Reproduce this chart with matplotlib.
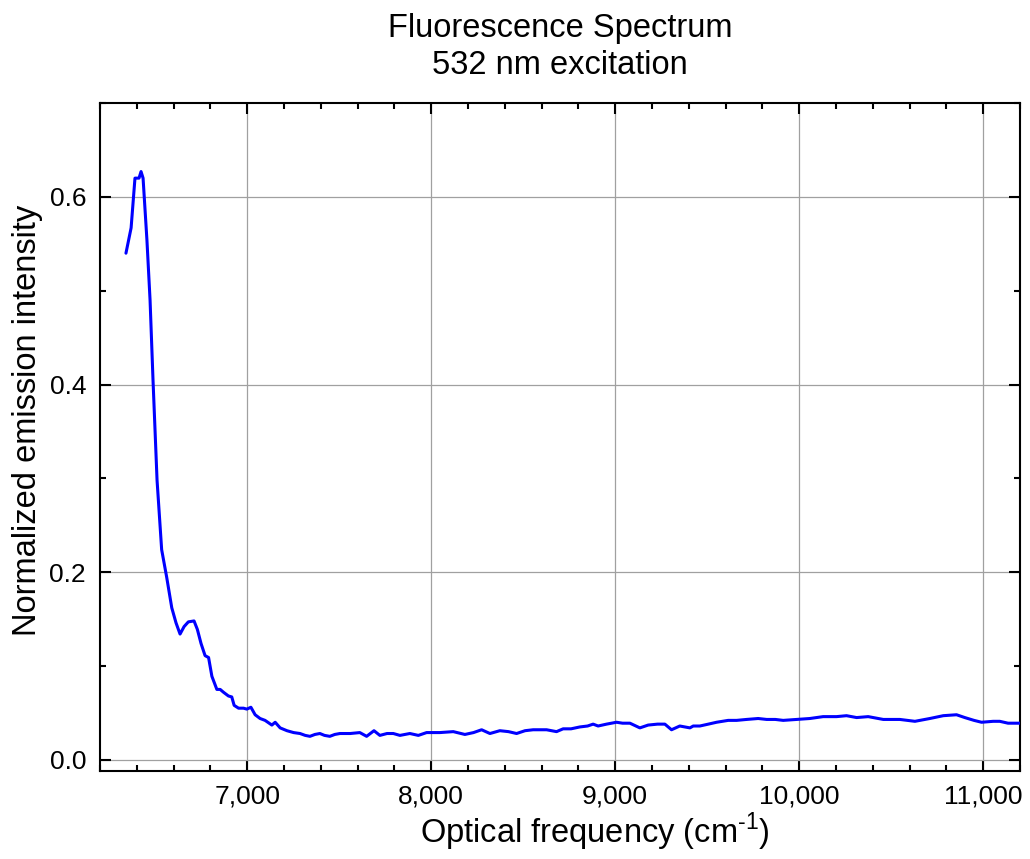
import matplotlib
matplotlib.use("Agg")
import matplotlib.pyplot as plt
from matplotlib.ticker import MultipleLocator, FuncFormatter

plt.rcParams['font.family'] = ['Liberation Sans', 'DejaVu Sans']
plt.rcParams['mathtext.fontset'] = 'custom'
plt.rcParams['mathtext.rm'] = 'Liberation Sans'

# optical frequency (cm^-1) and normalized emission
freq = [6341, 6369, 6390, 6412, 6423, 6434, 6455, 6472, 6488, 6510, 6535,
        6562, 6590, 6613, 6635, 6657, 6680, 6711, 6729, 6749, 6771, 6790,
        6808, 6835, 6853, 6871, 6898, 6916, 6929, 6953, 6980, 6998, 7020,
        7043, 7070, 7097, 7134, 7152, 7179, 7216, 7252, 7287, 7315, 7341,
        7368, 7395, 7420, 7449, 7476, 7504, 7560, 7612, 7649, 7689, 7721,
        7760, 7794, 7830, 7884, 7930, 7975, 8047, 8120, 8183, 8230, 8274,
        8319, 8373, 8420, 8464, 8510, 8554, 8627, 8681, 8717, 8760, 8808,
        8850, 8880, 8907, 8953, 9007, 9040, 9080, 9134, 9179, 9230, 9270,
        9306, 9351, 9406, 9424, 9460, 9506, 9551, 9614, 9660, 9714, 9777,
        9823, 9870, 9913, 9986, 10058, 10130, 10203, 10257, 10312, 10375,
        10457, 10547, 10629, 10710, 10783, 10855, 10900, 10950, 10991, 11054,
        11090, 11135, 11200]
intensity = [0.540, 0.567, 0.620, 0.620, 0.627, 0.620, 0.554, 0.490, 0.405,
             0.298, 0.224, 0.195, 0.162, 0.146, 0.134, 0.142, 0.147, 0.148,
             0.139, 0.124, 0.111, 0.109, 0.089, 0.075, 0.075, 0.072, 0.068,
             0.067, 0.058, 0.055, 0.055, 0.054, 0.056, 0.048, 0.044, 0.042,
             0.037, 0.040, 0.034, 0.031, 0.029, 0.028, 0.026, 0.025, 0.027,
             0.028, 0.026, 0.025, 0.027, 0.028, 0.028, 0.029, 0.025, 0.031,
             0.026, 0.028, 0.028, 0.026, 0.028, 0.026, 0.029, 0.029, 0.030,
             0.027, 0.029, 0.032, 0.028, 0.031, 0.030, 0.028, 0.031, 0.032,
             0.032, 0.030, 0.033, 0.033, 0.035, 0.036, 0.038, 0.036, 0.038,
             0.040, 0.039, 0.039, 0.034, 0.037, 0.038, 0.038, 0.032, 0.036,
             0.034, 0.036, 0.036, 0.038, 0.040, 0.042, 0.042, 0.043, 0.044,
             0.043, 0.043, 0.042, 0.043, 0.044, 0.046, 0.046, 0.047, 0.045,
             0.046, 0.043, 0.043, 0.041, 0.044, 0.047, 0.048, 0.045, 0.042,
             0.040, 0.041, 0.041, 0.039, 0.039]

fig = plt.figure(figsize=(10.30, 8.59), dpi=100)
ax = fig.add_axes([0.0971, 0.1024, 0.8932, 0.7776])

ax.plot(freq, intensity, color='#0000ff', lw=2.2, zorder=3,
        solid_joinstyle='round', solid_capstyle='round')

ax.set_xlim(6200, 11200)
ax.set_ylim(-0.012, 0.70)

ax.xaxis.set_major_locator(MultipleLocator(1000))
ax.xaxis.set_minor_locator(MultipleLocator(200))
ax.yaxis.set_major_locator(MultipleLocator(0.2))
ax.yaxis.set_minor_locator(MultipleLocator(0.1))
ax.xaxis.set_major_formatter(FuncFormatter(lambda v, p: f"{int(v):,}"))
ax.yaxis.set_major_formatter(FuncFormatter(lambda v, p: f"{v:.1f}"))

ax.grid(True, which='major', color='#a0a0a0', lw=0.9, zorder=0)
ax.tick_params(which='both', direction='in', top=True, right=True,
               width=1.5, labelsize=19)
ax.tick_params(axis='x', pad=10)
ax.tick_params(axis='y', pad=10)
ax.tick_params(which='major', length=8)
ax.tick_params(which='minor', length=4)
for s in ax.spines.values():
    s.set_linewidth(1.5)

ax.set_xlabel('Optical frequency (cm$^{\\text{-1}}$)', fontsize=23.5, labelpad=1)
ax.set_ylabel('Normalized emission intensity', fontsize=23.5, labelpad=5)
ax.xaxis.label.set_x(0.538)
ax.yaxis.label.set_y(0.525)
ax.set_title('Fluorescence Spectrum\n532 nm excitation', fontsize=23.5, pad=21,
             linespacing=1.25)

fig.savefig('out.png', dpi=100)
